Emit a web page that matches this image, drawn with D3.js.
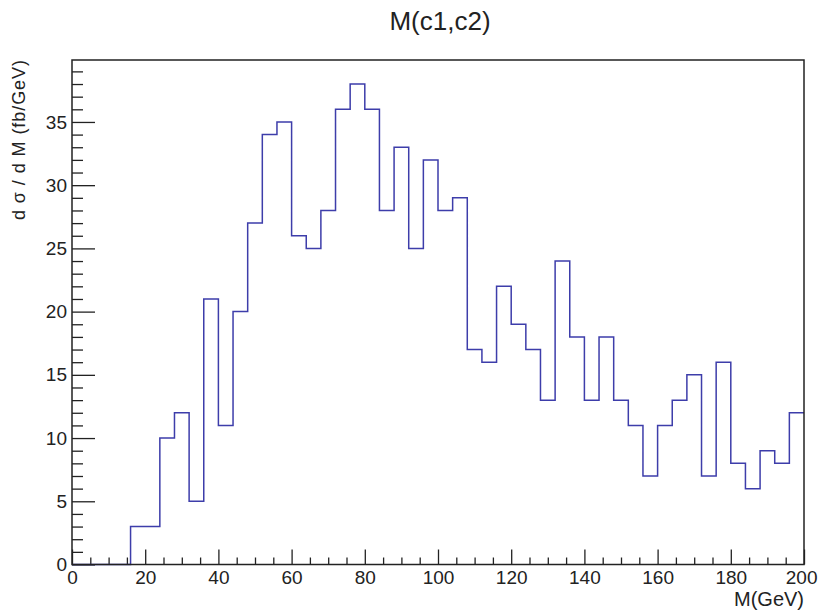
<!DOCTYPE html>
<html>
<head>
<meta charset="utf-8">
<script src="https://cdn.jsdelivr.net/npm/d3@7"></script>
<style>
  html, body { margin: 0; padding: 0; background: #fff; }
  svg { display: block; font-family: "Liberation Sans", Arial, Helvetica, sans-serif; }
</style>
</head>
<body>
<svg id="chart" width="818" height="611"></svg>
<script>
// ---- data ----
const title = "M(c1,c2)";
const xLabel = "M(GeV)";
const yLabel = "d σ / d M (fb/GeV)";
const binLow = [0,4,8,12,16,20,24,28,32,36,40,44,48,52,56,60,64,68,72,76,80,84,88,92,96,100,104,108,112,116,120,124,128,132,136,140,144,148,152,156,160,164,168,172,176,180,184,188,192,196];
const binWidth = 4;
const values = [0,0,0,0,3,3,10,12,5,21,11,20,27,34,35,26,25,28,36,38,36,28,33,25,32,28,29,17,16,22,19,17,13,24,18,13,18,13,11,7,11,13,15,7,16,8,6,9,8,12];
const xMajorTicks = [0,20,40,60,80,100,120,140,160,180,200];
const yMajorTicks = [0,5,10,15,20,25,30,35];
const xDomain = [0,200];
const yDomain = [0, 39.9];

// ---- layout ----
const L = 72, R = 804, T = 60, B = 564.5;
const svg = d3.select("#chart");
const x = d3.scaleLinear().domain(xDomain).range([L, R]);
const y = d3.scaleLinear().domain(yDomain).range([B, T]);

const xMinor = d3.range(0, 200.01, 5).filter(v => v % 20 !== 0);
const yMinor = d3.range(0, 39.9, 1).filter(v => v % 5 !== 0);

// y axis minor ticks (inside frame)
svg.append("g").attr("transform", `translate(${L},0)`)
  .call(d3.axisLeft(y).tickValues(yMinor).tickSize(-11).tickFormat(""))
  .call(g => g.select(".domain").remove());
// y axis major
const ya = svg.append("g").attr("transform", `translate(${L},0)`)
  .call(d3.axisLeft(y).tickValues(yMajorTicks).tickSize(-23).tickPadding(5).tickFormat(d3.format("d")))
  .call(g => g.select(".domain").remove());
ya.selectAll("text").attr("font-size", 19).attr("fill", "#222").attr("font-family", "Liberation Sans, Arial, sans-serif");

// x axis minor
svg.append("g").attr("transform", `translate(0,${B})`)
  .call(d3.axisBottom(x).tickValues(xMinor).tickSize(-7).tickFormat(""))
  .call(g => g.select(".domain").remove());
// x axis major
const xa = svg.append("g").attr("transform", `translate(0,${B})`)
  .call(d3.axisBottom(x).tickValues(xMajorTicks).tickSize(-15).tickPadding(6).tickFormat(d3.format("d")))
  .call(g => g.select(".domain").remove());
xa.selectAll("text").attr("font-size", 19).attr("fill", "#222").attr("font-family", "Liberation Sans, Arial, sans-serif");
// keep the last label inside the window
xa.selectAll("text").filter(d => d === 200).attr("text-anchor", "end").attr("dx", 13);

svg.selectAll(".tick line").attr("stroke", "#222").attr("stroke-width", 1.3);

// histogram outline
const pts = [];
binLow.forEach((lo, i) => {
  pts.push([lo, values[i]]);
  pts.push([lo + binWidth, values[i]]);
});
const line = d3.line().x(d => x(d[0])).y(d => y(d[1]));
svg.append("path")
  .attr("d", line(pts))
  .attr("fill", "none")
  .attr("stroke", "#3d3daa")
  .attr("stroke-width", 1.5);

// frame
svg.append("rect")
  .attr("x", L).attr("y", T).attr("width", R - L).attr("height", B - T)
  .attr("fill", "none").attr("stroke", "#222").attr("stroke-width", 1.5);

// title
svg.append("text").attr("x", 440).attr("y", 30)
  .attr("text-anchor", "middle").attr("font-size", 26).attr("fill", "#222")
  .text(title);

// x label
svg.append("text").attr("x", R).attr("y", 606)
  .attr("text-anchor", "end").attr("font-size", 20).attr("fill", "#222")
  .text(xLabel);

// y label
svg.append("text")
  .attr("transform", `translate(25,${T}) rotate(-90)`)
  .attr("text-anchor", "end").attr("font-size", 18).attr("fill", "#222")
  .attr("textLength", 160).attr("lengthAdjust", "spacing")
  .text(yLabel);
</script>
</body>
</html>
